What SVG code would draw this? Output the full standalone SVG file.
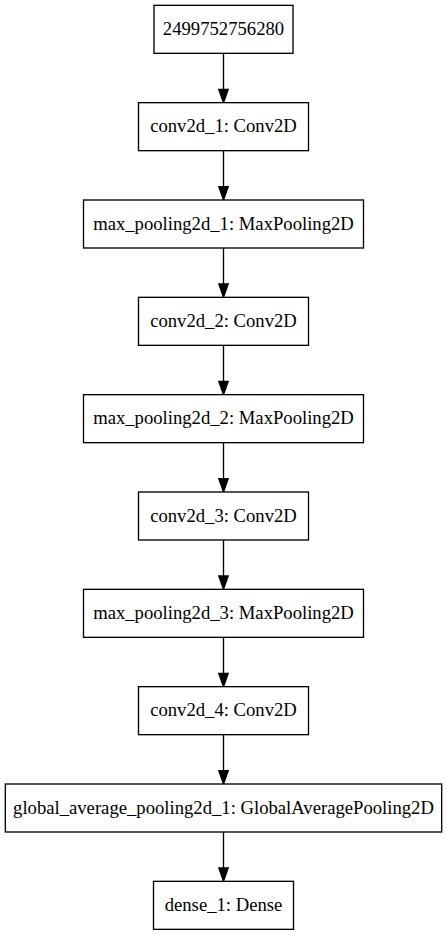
<svg xmlns="http://www.w3.org/2000/svg" width="447" height="936" viewBox="0 0 447 936">
<style>
.box{fill:#fff;stroke:#000;stroke-width:1.33}
.lbl{font-size:18.67px;fill:#000;text-anchor:middle}
.edge line{stroke:#000;stroke-width:1.33}
.edge polygon{fill:#000;stroke:#000;stroke-width:1.33}
</style>
<rect x="0" y="0" width="447" height="936" fill="#fff"/>
<g id="connectors" class="edge">
<line x1="223.5" y1="53.33" x2="223.5" y2="89.33"/><polygon points="218.8,89.33 228.2,89.33 223.5,102.67"/>
<line x1="223.5" y1="150.67" x2="223.5" y2="186.67"/><polygon points="218.8,186.67 228.2,186.67 223.5,200"/>
<line x1="223.5" y1="248" x2="223.5" y2="284"/><polygon points="218.8,284 228.2,284 223.5,297.33"/>
<line x1="223.5" y1="345.33" x2="223.5" y2="381.33"/><polygon points="218.8,381.33 228.2,381.33 223.5,394.67"/>
<line x1="223.5" y1="442.67" x2="223.5" y2="478.67"/><polygon points="218.8,478.67 228.2,478.67 223.5,492"/>
<line x1="223.5" y1="540" x2="223.5" y2="576"/><polygon points="218.8,576 228.2,576 223.5,589.33"/>
<line x1="223.5" y1="637.33" x2="223.5" y2="673.33"/><polygon points="218.8,673.33 228.2,673.33 223.5,686.67"/>
<line x1="223.5" y1="734.67" x2="223.5" y2="770.67"/><polygon points="218.8,770.67 228.2,770.67 223.5,784"/>
<line x1="223.5" y1="832" x2="223.5" y2="868"/><polygon points="218.8,868 228.2,868 223.5,881.33"/>
</g>
<g font-family="'Liberation Serif', 'DejaVu Serif', serif">
<g id="n_input"><rect class="box" x="154" y="5.33" width="139" height="48"/><text class="lbl" x="223.5" y="35">2499752756280</text></g>
<g id="n_conv2d_1"><rect class="box" x="138.5" y="102.67" width="170" height="48"/><text class="lbl" x="223.5" y="132.3">conv2d_1: Conv2D</text></g>
<g id="n_max_pooling2d_1"><rect class="box" x="83.5" y="200" width="280" height="48"/><text class="lbl" x="223.5" y="229.6">max_pooling2d_1: MaxPooling2D</text></g>
<g id="n_conv2d_2"><rect class="box" x="138.5" y="297.33" width="170" height="48"/><text class="lbl" x="223.5" y="326.9">conv2d_2: Conv2D</text></g>
<g id="n_max_pooling2d_2"><rect class="box" x="83.5" y="394.67" width="280" height="48"/><text class="lbl" x="223.5" y="424.3">max_pooling2d_2: MaxPooling2D</text></g>
<g id="n_conv2d_3"><rect class="box" x="138.5" y="492" width="170" height="48"/><text class="lbl" x="223.5" y="521.6">conv2d_3: Conv2D</text></g>
<g id="n_max_pooling2d_3"><rect class="box" x="83.5" y="589.33" width="280" height="48"/><text class="lbl" x="223.5" y="618.9">max_pooling2d_3: MaxPooling2D</text></g>
<g id="n_conv2d_4"><rect class="box" x="138.5" y="686.67" width="170" height="48"/><text class="lbl" x="223.5" y="716.3">conv2d_4: Conv2D</text></g>
<g id="n_global_average_pooling2d_1"><rect class="box" x="5.33" y="784" width="436.33" height="48"/><text class="lbl" x="223.5" y="813.6">global_average_pooling2d_1: GlobalAveragePooling2D</text></g>
<g id="n_dense_1"><rect class="box" x="153.5" y="881.33" width="140" height="48"/><text class="lbl" x="223.5" y="910.9">dense_1: Dense</text></g>
</g>
</svg>
